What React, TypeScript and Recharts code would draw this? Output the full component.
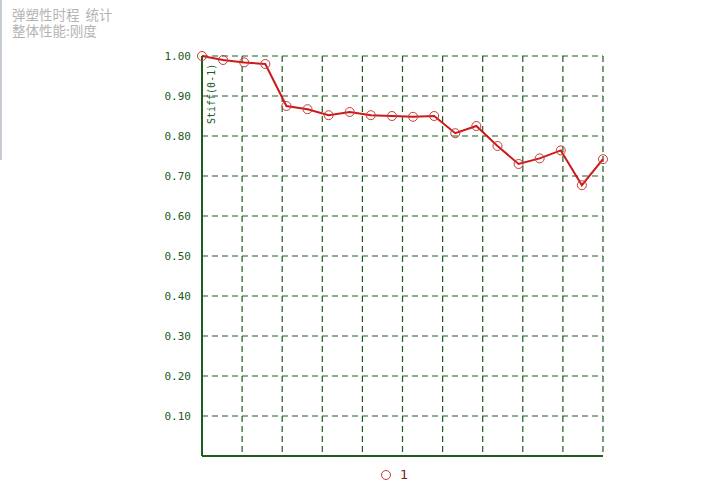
import { LineChart, Line, XAxis, YAxis, CartesianGrid } from 'recharts'

// step index along the time history
const steps = [1, 2, 3, 4, 5, 6, 7, 8, 9, 10, 11, 12, 13, 14, 15, 16, 17, 18, 19, 20]
// overall stiffness ratio (0-1)
const stiffness = [
  1.0, 0.99, 0.984, 0.98, 0.875, 0.867, 0.852, 0.86, 0.852, 0.85,
  0.848, 0.85, 0.807, 0.825, 0.775, 0.73, 0.744, 0.764, 0.677, 0.742,
]
const yTicks = [0.1, 0.2, 0.3, 0.4, 0.5, 0.6, 0.7, 0.8, 0.9, 1.0]
const xTicks = [1, 2.9, 4.8, 6.7, 8.6, 10.5, 12.4, 14.3, 16.2, 18.1, 20]
const titleLines = ['弹塑性时程  统计', '整体性能:刚度']

const data = steps.map((s, i) => ({ step: s, value: stiffness[i] }))

const GREEN = '#1c5c1c'
const RED = '#cc1a1a'

export default function App() {
  return (
    <div style={{ position: 'absolute', left: 0, top: 0, width: 715, height: 483, background: '#fff' }}>
      {/* window edge */}
      <div style={{ position: 'absolute', left: 0, top: 0, width: 2, height: 160, background: '#c8ccd4' }} />

      <div style={{ position: 'absolute', left: 12, top: 6, fontFamily: '"Noto Sans CJK SC", sans-serif', fontSize: 13.5, lineHeight: '16px', color: '#b4b4b4', whiteSpace: 'pre' }}>
        {titleLines[0]}
        <br />
        {titleLines[1]}
      </div>

      <div style={{ position: 'absolute', left: 0, top: 0 }}>
        <LineChart width={715} height={483} data={data} margin={{ top: 56, right: 112, bottom: 7, left: 162 }}>
          <CartesianGrid stroke={GREEN} strokeDasharray="6 4" strokeWidth={1.2} />
          <XAxis
            dataKey="step"
            type="number"
            domain={[1, 20]}
            ticks={xTicks}
            interval={0}
            tick={() => <g />}
            tickLine={false}
            height={20}
            axisLine={{ stroke: GREEN, strokeWidth: 2 }}
          />
          <YAxis
            type="number"
            domain={[0, 1]}
            ticks={yTicks}
            width={40}
            tickLine={false}
            tickMargin={5}
            tickFormatter={(v: number) => v.toFixed(2)}
            tick={{ fill: GREEN, fontSize: 11, fontFamily: '"DejaVu Sans Mono", monospace' }}
            axisLine={{ stroke: GREEN, strokeWidth: 2 }}
            label={{ value: 'Stiff(0-1)', angle: -90, position: 'insideTopLeft', offset: 0, dx: 46, dy: 68, fill: GREEN, fontSize: 10, fontFamily: '"DejaVu Sans Mono", monospace' }}
          />
          <Line
            type="linear"
            dataKey="value"
            stroke={RED}
            strokeWidth={2}
            dot={{ r: 4.5, stroke: '#c83a3a', strokeWidth: 1, fill: 'none' }}
            isAnimationActive={false}
          />
        </LineChart>
      </div>

      {/* legend */}
      <div style={{ position: 'absolute', left: 381, top: 467, height: 16, display: 'flex', alignItems: 'center', gap: 9, fontFamily: '"DejaVu Sans", sans-serif', fontSize: 13, lineHeight: '16px', color: '#7a1a1a', zIndex: 2 }}>
        <span style={{ width: 8, height: 8, borderRadius: '50%', border: '1px solid #c83a3a', display: 'inline-block' }} />
        <span>1</span>
      </div>
    </div>
  )
}
